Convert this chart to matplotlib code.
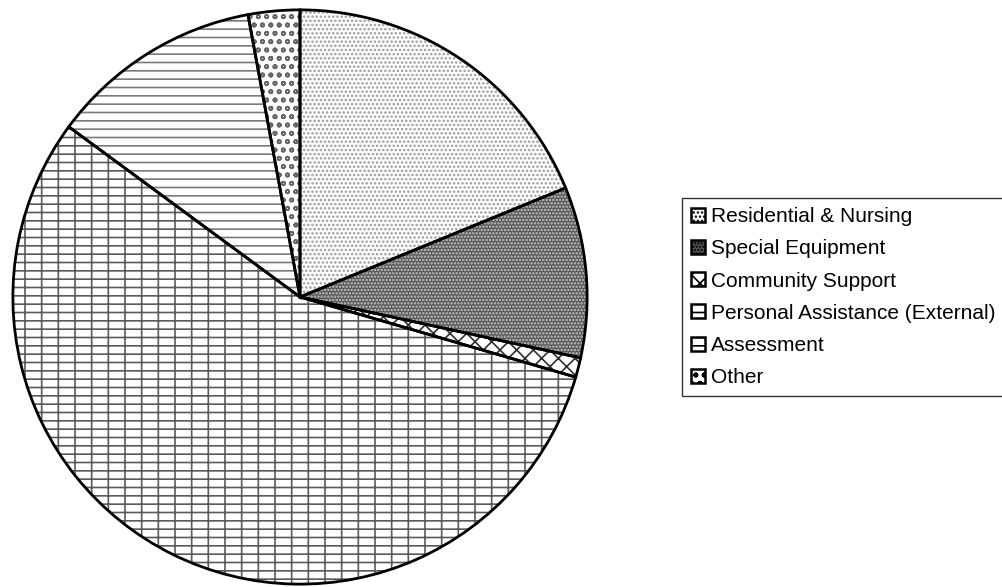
import matplotlib
matplotlib.use('Agg')
import matplotlib.pyplot as plt
from matplotlib.patches import Wedge, Patch

plt.rcParams['font.family'] = ['Liberation Sans', 'DejaVu Sans']
plt.rcParams['hatch.linewidth'] = 1.2

# data (percent of spend)
categories = ['Residential & Nursing', 'Special Equipment', 'Community Support',
              'Personal Assistance (External)', 'Assessment', 'Other']
values = [18.8, 9.6, 1.1, 55.6, 12.0, 2.9]

# styles: face colour, hatch, hatch colour
faces = ['white', '#555555', 'white', 'white', 'white', 'white']
hatches = ['....', '.....', 'xx', '--|', '--', 'oo']
hatch_cols = ['#9a9a9a', '#c8c8c8', '#303030', '#5a5a5a', '#7a7a7a', '#666666']

fig = plt.figure(figsize=(10.02, 5.87), dpi=100)
ax = fig.add_axes([10 / 1002, 0, 580 / 1002, 580 / 587])

wedges, _ = ax.pie(values, startangle=90, counterclock=False, colors=faces,
                   wedgeprops=dict(edgecolor='none', linewidth=0))

# hatch layer, then black outline on top
for w, h, hc in zip(wedges, hatches, hatch_cols):
    ax.add_patch(Wedge(w.center, w.r, w.theta1, w.theta2, fill=False,
                       hatch=h, edgecolor=hc, linewidth=0, zorder=2))
    ax.add_patch(Wedge(w.center, w.r, w.theta1, w.theta2, fill=False,
                       edgecolor='black', linewidth=2, zorder=3))

ax.set_xlim(-1.01, 1.01)
ax.set_ylim(-1.01, 1.01)
ax.set_aspect('equal')
ax.axis('off')

handles = []
for f, h, hc in zip(faces, hatches, hatch_cols):
    handles.append(Patch(facecolor=f, edgecolor='black', hatch=h, linewidth=1.8))

leg = fig.legend(handles, categories, loc='upper left',
                 bbox_to_anchor=(682 / 1002, 1 - 198 / 587),
                 fontsize=15, frameon=True, fancybox=False, shadow=False,
                 handlelength=0.65, handleheight=0.65, handletextpad=0.3,
                 labelspacing=0.63, borderpad=0.45, borderaxespad=0)
leg.get_frame().set_edgecolor('black')
leg.get_frame().set_linewidth(1.0)

fig.savefig('out.png', dpi=100)
